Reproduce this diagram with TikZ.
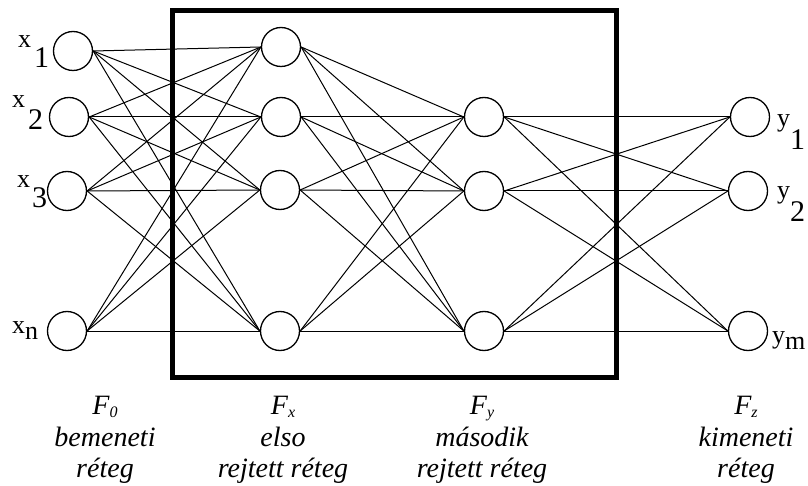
\documentclass[tikz,border=0pt]{standalone}
\usepackage{fontspec}
\setmainfont{Liberation Serif}[
  UprightFont = Liberation Serif,
  ItalicFont = Liberation Serif Italic]
\begin{document}
\begin{tikzpicture}[x=1pt,y=-1pt,
  neuron/.style={circle,draw,line width=1.3pt,minimum size=39pt,inner sep=0pt,fill=white},
  link/.style={line width=1pt},
  small/.style={font=\fontsize{26}{26}\selectfont,inner sep=0pt,anchor=base west},
  big/.style={font=\fontsize{30}{30}\selectfont,inner sep=0pt,anchor=base west},
  caption/.style={font=\fontsize{28}{30}\selectfont\itshape,inner sep=0pt,anchor=base}]
\useasboundingbox (0,0) rectangle (808,486);

% layers
\node[neuron] (i1) at (73,51) {};
\node[neuron] (i2) at (69,117) {};
\node[neuron] (i3) at (67,191) {};
\node[neuron] (i4) at (67,331) {};

\node[neuron] (h1) at (281,47) {};
\node[neuron] (h2) at (281,117) {};
\node[neuron] (h3) at (280,190) {};
\node[neuron] (h4) at (280,331) {};

\node[neuron] (g1) at (484,117) {};
\node[neuron] (g2) at (484,191) {};
\node[neuron] (g3) at (484,331) {};

\node[neuron] (o1) at (750,117) {};
\node[neuron] (o2) at (748,191) {};
\node[neuron] (o3) at (748,331) {};

% full connections between consecutive layers
\foreach \a in {i1,i2,i3,i4}
  \foreach \b in {h1,h2,h3,h4}
    \draw[link] (\a.east) -- (\b.west);
\foreach \a in {h1,h2,h3,h4}
  \foreach \b in {g1,g2,g3}
    \draw[link] (\a.east) -- (\b.west);
\foreach \a in {g1,g2,g3}
  \foreach \b in {o1,o2,o3}
    \draw[link] (\a.east) -- (\b.west);

% hidden part frame
\draw[line width=5pt] (172.5,10.5) rectangle (616,377.5);

% input labels
\node[small] (lx1) at (18,48) {x};
\node[big]   (sx1) at (34,68) {1};
\node[small] (lx2) at (12,108) {x};
\node[big]   (sx2) at (28,130) {2};
\node[small] (lx3) at (17,188) {x};
\node[big]   (sx3) at (32,208) {3};
\node[small] (lxn) at (12,333) {x};
\node[small] (sxn) at (25,339) {n};

% output labels
\node[small] (ly1) at (777,127) {y};
\node[big]   (sy1) at (790,150) {1};
\node[small] (ly2) at (777,199) {y};
\node[big]   (sy2) at (790,222) {2};
\node[small] (lym) at (772,343) {y};
\node[small] (sym) at (785,349) {m};

% layer captions
\node[caption] (c0a) at (105,414) {F\raisebox{-3pt}{\fontsize{16}{16}\selectfont 0}};
\node[caption] (c0b) at (105,446) {bemeneti};
\node[caption] (c0c) at (105,477) {réteg};

\node[caption] (cxa) at (283,414) {F\raisebox{-3pt}{\fontsize{16}{16}\selectfont x}};
\node[caption] (cxb) at (283,446) {elso};
\node[caption] (cxc) at (283,477) {rejtett réteg};

\node[caption] (cya) at (482,414) {F\raisebox{-3pt}{\fontsize{16}{16}\selectfont y}};
\node[caption] (cyb) at (482,446) {második};
\node[caption] (cyc) at (482,477) {rejtett réteg};

\node[caption] (cza) at (746,414) {F\raisebox{-3pt}{\fontsize{16}{16}\selectfont z}};
\node[caption] (czb) at (746,446) {kimeneti};
\node[caption] (czc) at (746,477) {réteg};
\end{tikzpicture}
\end{document}
